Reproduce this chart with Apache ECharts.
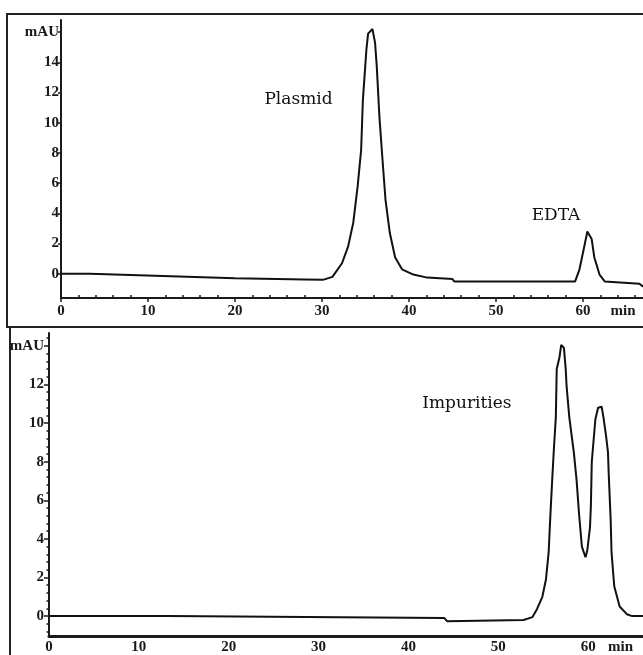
<!DOCTYPE html>
<html>
<head>
<meta charset="utf-8">
<script src="https://cdn.jsdelivr.net/npm/echarts@6/dist/echarts.min.js"></script>
<style>
  html, body { margin: 0; padding: 0; background: #fff; }
  #chart { width: 643px; height: 655px; }
</style>
</head>
<body>
<div id="chart"></div>
<script>
"use strict";

/***** Data *****/
// top run: plasmid + EDTA (min, mAU)
var topTime = [0, 3.3, 3.4, 10.8, 11.0, 20, 28, 30.1, 31.2, 32.3, 33.0, 33.6, 34.1, 34.5, 34.7,
	35.1, 35.3, 35.8, 36.1, 36.3, 36.6, 36.9, 37.3, 37.8, 38.4, 39.2, 40.5, 42.1, 45.0, 45.2,
	50, 55, 59.1, 59.6, 60.0, 60.4, 60.5, 61.0, 61.3, 61.9, 62.5, 62.7, 66.5, 66.9];
var topSignal = [0, 0, -0.13, -0.13, -0.25, -0.3, -0.38, -0.4, -0.2, 0.7, 1.8, 3.4, 5.8, 8.2, 11.5,
	14.8, 15.9, 16.2, 15.3, 13.7, 10.4, 8.0, 4.9, 2.7, 1.1, 0.3, -0.05, -0.25, -0.35, -0.5,
	-0.5, -0.5, -0.5, 0.3, 1.4, 2.5, 2.8, 2.3, 1.1, -0.05, -0.5, -0.6, -0.65, -0.85];

// bottom run: impurities
var bottomTime = [0, 13.2, 13.4, 44.0, 44.3, 52.8, 53.8, 54.3, 54.9, 55.3, 55.6, 55.8, 56.0, 56.2, 56.4,
	56.5, 56.8, 57.0, 57.3, 57.5, 57.6, 57.9, 58.4, 58.7, 59.0, 59.3, 59.7, 59.9, 60.2, 60.3,
	60.4, 60.6, 60.8, 61.1, 61.5, 61.7, 62.0, 62.2, 62.3, 62.5, 62.6, 62.9, 63.5, 64.3, 64.9, 66.1];
var bottomSignal = [0, 0, -0.1, -0.1, -0.26, -0.2, -0.05, 0.36, 1.0, 1.9, 3.3, 5.3, 7.1, 8.8, 10.3,
	12.8, 13.4, 14.05, 13.9, 12.8, 11.9, 10.3, 8.5, 7.1, 5.2, 3.6, 3.05, 3.4, 4.6, 5.7,
	8.0, 9.1, 10.2, 10.8, 10.85, 10.3, 9.3, 8.5, 7.2, 5.0, 3.3, 1.55, 0.5, 0.1, 0, 0];

// tick labels
var topYTicks = [0, 2, 4, 6, 8, 10, 12, 14, 16];      // 16 -> "mAU"
var bottomYTicks = [0, 2, 4, 6, 8, 10, 12, 14];       // 14 -> "mAU"
var xTicks = [0, 10, 20, 30, 40, 50, 60];
var topMinPos = 64.6, bottomMinPos = 63.6;            // "min" unit label
var topXMinor = [2, 4, 6, 8, 12, 14, 16, 18, 22, 24, 26, 28, 32, 34, 36, 38, 42, 44, 46, 48, 52, 54, 56, 58, 62, 64, 66];
var bottomYMinor = [-0.8, -0.4, 0.4, 0.8, 1.2, 1.6, 2.4, 2.8, 3.2, 3.6, 4.4, 4.8, 5.2, 5.6, 6.4, 6.8, 7.2, 7.6,
	8.4, 8.8, 9.2, 9.6, 10.4, 10.8, 11.2, 11.6, 12.4, 12.8, 13.2, 13.6, 14.4];

// peak annotations [name, time, mAU]
var topNotes = [['Plasmid', 27.3, 11.5], ['EDTA', 56.9, 3.85]];
var bottomNotes = [['Impurities', 46.5, 11.0]];

/***** Helpers *****/
var zip = function (xs, ys) {
	return xs.map(function (x, i) { return [x, ys[i]]; });
};
var tickFont = {
	color: '#1a1a1a',
	fontFamily: "'Liberation Serif', serif",
	fontWeight: 'bold',
	fontSize: 15
};
var noteData = function (notes) {
	return notes.map(function (n) {
		return {
			name: n[0],
			coord: [n[1], n[2]],
			symbolSize: 0,
			label: {
				show: true,
				position: 'inside',
				formatter: n[0],
				color: '#111',
				fontFamily: "'DejaVu Serif', serif",
				fontSize: 17
			}
		};
	});
};
var lineStyle = { color: '#111', width: 2 };

/***** Chart *****/
var chart = echarts.init(document.getElementById('chart'), null, { renderer: 'canvas' });

var option = {
	backgroundColor: '#fff',
	animation: false,
	graphic: [
		{ type: 'rect', shape: { x: 7, y: 14, width: 700, height: 313 },
			style: { fill: 'none', stroke: '#222', lineWidth: 2 }, z: 100 },
		{ type: 'rect', shape: { x: 10, y: 327, width: 700, height: 400 },
			style: { fill: 'none', stroke: '#222', lineWidth: 2 }, z: 100 }
	],
	grid: [
		{ left: 61, top: 20, width: 582, height: 278 },
		{ left: 49, top: 333, width: 594, height: 304 }
	],
	xAxis: [
		{
			type: 'value', gridIndex: 0, min: 0, max: 66.9,
			axisLine: { onZero: false, lineStyle: { color: '#1a1a1a', width: 2 } },
			axisTick: { show: true, customValues: xTicks, length: 4, lineStyle: { color: '#1a1a1a', width: 1.5 } },
			axisLabel: Object.assign({
				customValues: xTicks.concat([topMinPos]), margin: 6,
				formatter: function (v) { return v > 62 ? 'min' : v; }
			}, tickFont),
			splitLine: { show: false }
		},
		{
			// minor ticks on the top time axis
			type: 'value', gridIndex: 0, min: 0, max: 66.9, position: 'bottom',
			axisLine: { show: false, onZero: false },
			axisTick: { show: true, inside: true, customValues: topXMinor, length: 3, lineStyle: { color: '#1a1a1a', width: 1.5 } },
			axisLabel: { show: false },
			splitLine: { show: false }
		},
		{
			type: 'value', gridIndex: 1, min: 0, max: 66.1,
			axisLine: { onZero: false, lineStyle: { color: '#1a1a1a', width: 3 } },
			axisTick: { show: false },
			axisLabel: Object.assign({
				customValues: xTicks.concat([bottomMinPos]), margin: 4,
				formatter: function (v) { return v > 62 ? 'min' : v; }
			}, tickFont),
			splitLine: { show: false }
		}
	],
	yAxis: [
		{
			type: 'value', gridIndex: 0, min: -1.6, max: 16.8,
			axisLine: { show: true, onZero: false, lineStyle: { color: '#1a1a1a', width: 2 } },
			axisTick: { show: true, customValues: topYTicks, length: 3, lineStyle: { color: '#1a1a1a', width: 1.5 } },
			axisLabel: Object.assign({
				customValues: topYTicks, margin: 2,
				formatter: function (v) { return v === 16 ? 'mAU' : v; }
			}, tickFont),
			splitLine: { show: false }
		},
		{
			type: 'value', gridIndex: 1, min: -1.03, max: 14.67,
			axisLine: { show: true, onZero: false, lineStyle: { color: '#1a1a1a', width: 2 } },
			axisTick: { show: true, customValues: bottomYTicks, length: 5, lineStyle: { color: '#1a1a1a', width: 1.5 } },
			axisLabel: Object.assign({
				customValues: bottomYTicks, margin: 5,
				formatter: function (v) { return v === 14 ? 'mAU' : v; }
			}, tickFont),
			splitLine: { show: false }
		},
		{
			// minor ticks on the bottom signal axis
			type: 'value', gridIndex: 1, min: -1.03, max: 14.67, position: 'left',
			axisLine: { show: false, onZero: false },
			axisTick: { show: true, customValues: bottomYMinor, length: 2.5, lineStyle: { color: '#1a1a1a', width: 1.5 } },
			axisLabel: { show: false },
			splitLine: { show: false }
		}
	],
	series: [
		{
			name: 'Plasmid run', type: 'line', xAxisIndex: 0, yAxisIndex: 0,
			data: zip(topTime, topSignal),
			showSymbol: false, lineStyle: lineStyle,
			markPoint: { symbol: 'circle', data: noteData(topNotes) }
		},
		{
			name: 'Impurity run', type: 'line', xAxisIndex: 2, yAxisIndex: 1,
			data: zip(bottomTime, bottomSignal),
			showSymbol: false, lineStyle: lineStyle,
			markPoint: { symbol: 'circle', data: noteData(bottomNotes) }
		}
	]
};

chart.setOption(option);
</script>
</body>
</html>
